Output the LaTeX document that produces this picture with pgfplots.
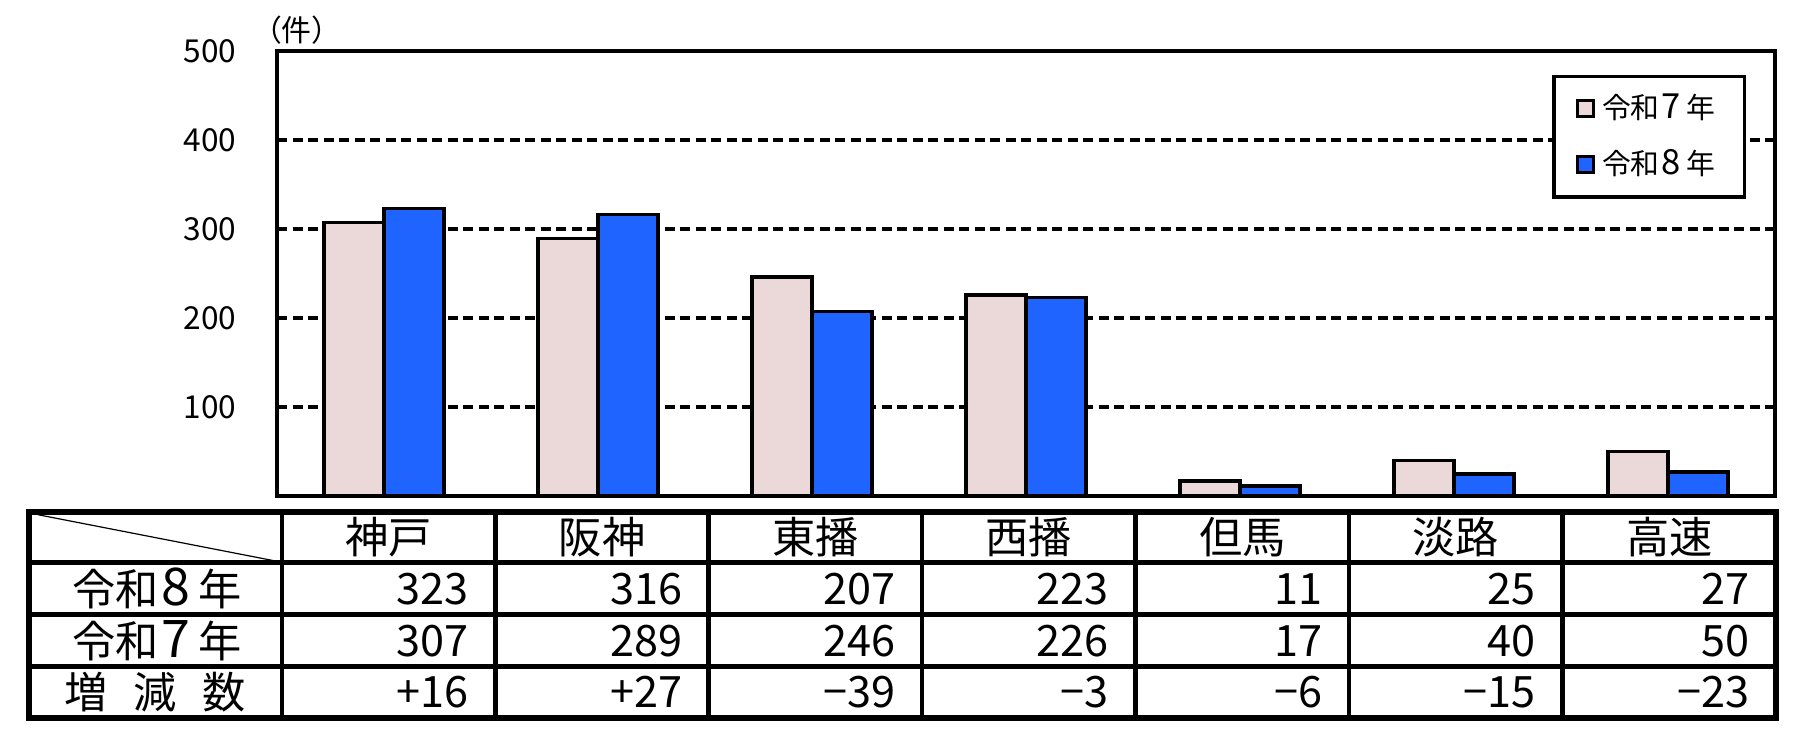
\documentclass[border=0pt]{standalone}
\usepackage{pgfplots}
\pgfplotsset{compat=1.18}
\usepackage{graphicx}
\usepackage{fontspec}
\setmainfont{Noto Sans CJK JP}
\definecolor{pinkbar}{RGB}{235,216,216}
\definecolor{bluebar}{RGB}{31,100,255}
\newcommand{\bigd}[1]{\hspace{0.06em}\scalebox{1.2}{#1}\hspace{0.2em}}
\pgfplotsset{sqlegend/.style={legend image code/.code={\draw[##1,line width=0.3mm] (0mm,-0.8mm) rectangle (1.6mm,0.8mm);}}}
\begin{document}
\begin{tikzpicture}
\path[use as bounding box] (0,0) rectangle (18.01cm,-7.41cm);
\begin{axis}[
  at={(2.77cm,-4.96cm)}, anchor=south west,
  scale only axis, width=14.98cm, height=4.453cm,
  xmin=-0.5, xmax=6.5, ymin=0, ymax=500,
  xtick=\empty, ytick={100,200,300,400,500},
  major tick length=0pt,
  ymajorgrids,
  grid style={black, line width=0.4mm, dash pattern=on 1mm off 0.55mm},
  axis line style={line width=0.43mm},
  /pgf/number format/assume math mode=true,
  yticklabel style={font=\fontsize{9pt}{10pt}\selectfont, inner sep=0pt, xshift=-4mm},
  ybar=0pt, bar width=0.28,
  legend style={at={(0.9806,0.9454)}, anchor=north east, draw=black, line width=0.33mm,
    font=\fontsize{8.2pt}{9pt}\selectfont, inner xsep=2.2mm, inner ysep=1mm, row sep=1.2mm,
    cells={anchor=west}},
]
\addplot[fill=pinkbar, draw=black, line width=0.35mm, sqlegend] coordinates {(0,307) (1,289) (2,246) (3,226) (4,17) (5,40) (6,50)};
\addlegendentry{令和\bigd{7}年}
\addplot[fill=bluebar, draw=black, line width=0.35mm, sqlegend] coordinates {(0,323) (1,316) (2,207) (3,223) (4,11) (5,25) (6,27)};
\addlegendentry{令和\bigd{8}年}
\end{axis}
\begin{scope}[x=0.01cm,y=-0.01cm]
\node[font=\fontsize{8.5pt}{9pt}\selectfont] at (297,30) {（件）};
% table
\draw[line width=0.45mm] (29,563) -- (1777,563) (29,615) -- (1777,615) (29,667) -- (1777,667);
\foreach \xx in {282,495.6,709.1,922.7,1136.3,1349.9,1563.4} {\draw[line width=0.45mm] (\xx,512) -- (\xx,718);}
\draw[line width=0.6mm] (29,512) rectangle (1777,718);
\draw[line width=0.12mm] (38,515) -- (274,561);
\begin{scope}[font=\fontsize{12.3pt}{14pt}\selectfont]
\foreach \xx/\t in {388.8/神戸,602.4/阪神,815.9/東播,1029.5/西播,1243.1/但馬,1456.6/淡路,1670.2/高速} {\node at (\xx,537.5) {\t};}
\node at (157,589) {令和\bigd{8}年};
\node at (157,641) {令和\bigd{7}年};
\node at (155.5,692.5) {増\hspace{0.6em}減\hspace{0.6em}数};
\foreach \xx/\a/\b/\c in {469.6/323/307/+16, 683.1/316/289/+27, 896.7/207/246/−39, 1110.3/223/226/−3, 1323.9/11/17/−6, 1537.4/25/40/−15, 1751/27/50/−23} {
  \node[anchor=east, inner xsep=0pt] at (\xx,589) {\a};
  \node[anchor=east, inner xsep=0pt] at (\xx,641) {\b};
  \node[anchor=east, inner xsep=0pt] at (\xx,692.5) {\c};
}
\end{scope}
\end{scope}
\end{tikzpicture}
\end{document}
